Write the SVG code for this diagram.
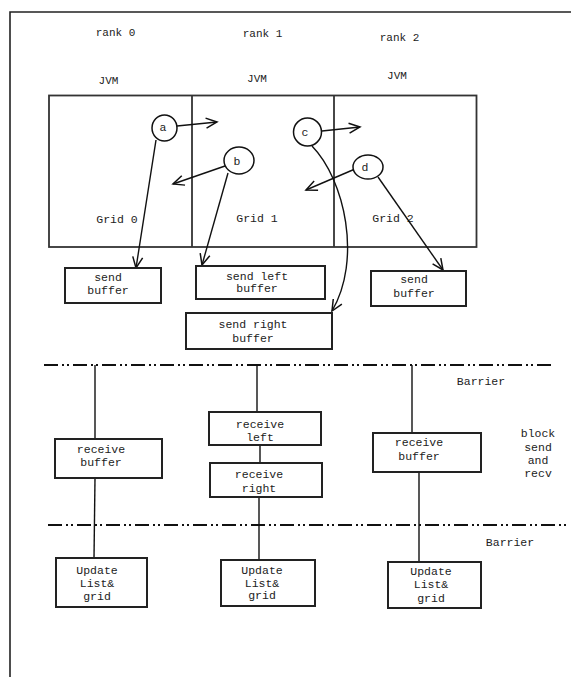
<svg xmlns="http://www.w3.org/2000/svg" width="571" height="677" viewBox="0 0 571 677">
<style>
text{font-family:"Liberation Mono","DejaVu Sans Mono",monospace;font-size:11.5px;fill:#222;text-anchor:middle}
.lbl{font-size:11px}
.box{fill:#fff;stroke:#222;stroke-width:2}
.circ{fill:#fff;stroke:#111;stroke-width:1.5}
.ln{fill:none;stroke:#111;stroke-width:1.4}
.bar{fill:none;stroke:#111;stroke-width:2;stroke-dasharray:14 4 2 3 2 4}
</style>
<defs>
<marker id="ah" markerUnits="userSpaceOnUse" markerWidth="14" markerHeight="14" refX="12" refY="6" orient="auto" viewBox="0 0 14 12">
<path d="M1,1 L12,6 L1,11" fill="none" stroke="#111" stroke-width="1.5"/>
</marker>
</defs>
<rect width="571" height="677" fill="#fff"/>
<path d="M10,677 V12 H571" fill="none" stroke="#222" stroke-width="1.6"/>
<g id="labels">
<text class="lbl" x="115.5" y="36">rank 0</text>
<text class="lbl" x="262.5" y="37">rank 1</text>
<text class="lbl" x="399.5" y="41">rank 2</text>
<text class="lbl" x="108.5" y="84">JVM</text>
<text class="lbl" x="257" y="82">JVM</text>
<text class="lbl" x="397" y="79">JVM</text>
<text x="481" y="385">Barrier</text>
<text x="510" y="546">Barrier</text>
<text x="538" y="437">block</text>
<text x="538" y="451">send</text>
<text x="538" y="464">and</text>
<text x="538" y="477">recv</text>
</g>
<g id="grid">
<rect x="49" y="95.5" width="427.5" height="151.5" fill="none" stroke="#333" stroke-width="1.8"/>
<line x1="192" y1="95.5" x2="192" y2="247" stroke="#333" stroke-width="1.8"/>
<line x1="334" y1="95.5" x2="334" y2="247" stroke="#333" stroke-width="1.8"/>
<text x="117" y="223">Grid 0</text>
<text x="257" y="222">Grid 1</text>
<text x="393" y="222">Grid 2</text>
</g>
<g id="barriers">
<line class="bar" x1="44" y1="365" x2="551" y2="365"/>
<line class="bar" x1="48" y1="525" x2="566" y2="525"/>
</g>
<g id="connectors">
<line class="ln" x1="177" y1="126" x2="217" y2="122" marker-end="url(#ah)"/>
<line class="ln" x1="225" y1="166" x2="173" y2="184" marker-end="url(#ah)"/>
<line class="ln" x1="156" y1="140" x2="136" y2="268" marker-end="url(#ah)"/>
<line class="ln" x1="228" y1="173" x2="202" y2="265" marker-end="url(#ah)"/>
<line class="ln" x1="322" y1="131" x2="360" y2="127" marker-end="url(#ah)"/>
<line class="ln" x1="355" y1="169" x2="306" y2="190" marker-end="url(#ah)"/>
<path class="ln" d="M312,146 C345,180 362,260 332,311" marker-end="url(#ah)"/>
<line class="ln" x1="378" y1="177" x2="443" y2="270" marker-end="url(#ah)"/>
<line class="ln" x1="95" y1="365" x2="95" y2="439"/>
<line class="ln" x1="257" y1="365" x2="257" y2="412"/>
<line class="ln" x1="412" y1="365" x2="412" y2="433"/>
<line class="ln" x1="260" y1="445" x2="260" y2="463"/>
<line class="ln" x1="95" y1="478" x2="94" y2="558"/>
<line class="ln" x1="259" y1="497" x2="259" y2="560"/>
<line class="ln" x1="419" y1="472" x2="419" y2="562"/>
</g>
<g id="node-a"><ellipse class="circ" cx="164.5" cy="128" rx="12.5" ry="13"/><text x="163" y="131">a</text></g>
<g id="node-b"><ellipse class="circ" cx="239" cy="160.5" rx="15" ry="13.5"/><text x="237" y="165">b</text></g>
<g id="node-c"><ellipse class="circ" cx="307.5" cy="132" rx="14" ry="14"/><text x="305" y="136">c</text></g>
<g id="node-d"><ellipse class="circ" cx="368" cy="167" rx="15" ry="12"/><text x="365" y="171">d</text></g>
<g id="send-buffer-0"><rect class="box" x="65" y="268" width="96" height="35"/><text x="108" y="281">send</text><text x="108" y="294">buffer</text></g>
<g id="send-left-buffer"><rect class="box" x="196" y="266" width="129" height="33"/><text x="257" y="280">send left</text><text x="257" y="292">buffer</text></g>
<g id="send-right-buffer"><rect class="box" x="186" y="313" width="146" height="36"/><text x="253" y="328">send right</text><text x="253" y="342">buffer</text></g>
<g id="send-buffer-2"><rect class="box" x="371" y="271" width="95" height="35"/><text x="414" y="283">send</text><text x="414" y="297">buffer</text></g>
<g id="receive-buffer-0"><rect class="box" x="55" y="439" width="107" height="39"/><text x="101" y="453">receive</text><text x="101" y="466">buffer</text></g>
<g id="receive-left"><rect class="box" x="209" y="412" width="112" height="33"/><text x="260" y="428">receive</text><text x="260" y="441">left</text></g>
<g id="receive-right"><rect class="box" x="210" y="463" width="112" height="34"/><text x="259" y="478">receive</text><text x="259" y="492">right</text></g>
<g id="receive-buffer-2"><rect class="box" x="373" y="433" width="108" height="39"/><text x="419" y="446">receive</text><text x="419" y="460">buffer</text></g>
<g id="update-0"><rect class="box" x="56" y="558" width="91" height="49"/><text x="97" y="574">Update</text><text x="97" y="587">List&amp;</text><text x="97" y="600">grid</text></g>
<g id="update-1"><rect class="box" x="221" y="560" width="94" height="46"/><text x="262" y="574">Update</text><text x="262" y="587">List&amp;</text><text x="262" y="599">grid</text></g>
<g id="update-2"><rect class="box" x="388" y="562" width="93" height="46"/><text x="431" y="575">Update</text><text x="431" y="588">List&amp;</text><text x="431" y="602">grid</text></g>
</svg>
